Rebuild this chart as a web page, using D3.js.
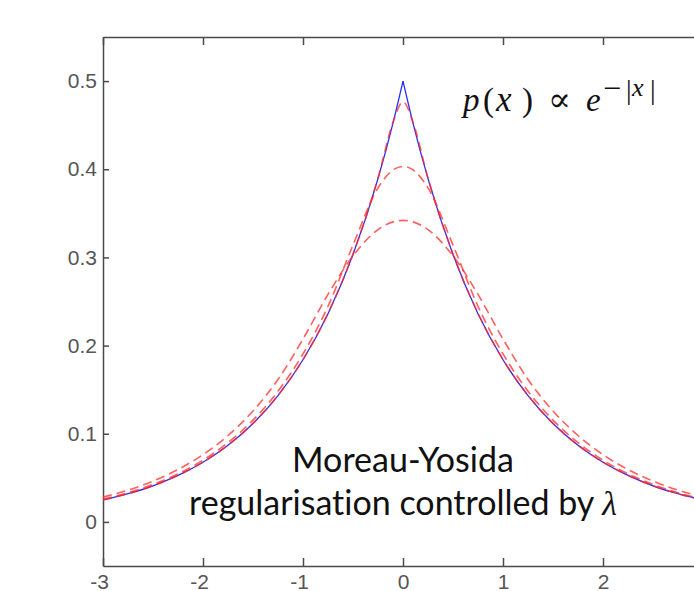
<!DOCTYPE html>
<meta charset="utf-8">
<style>
body { margin: 0; background: #fff; }
svg { display: block; }
.tick text { font-family: "Liberation Sans", Arial, sans-serif; fill: #555; }
.note { font-family: Lato, "Open Sans", sans-serif; fill: #111; font-variant-ligatures: none; }
.math { font-family: "Liberation Serif", "DejaVu Serif", serif; fill: #111; }
</style>
<svg width="694" height="591"></svg>
<script src="https://cdn.jsdelivr.net/npm/d3@7/dist/d3.min.js"></script>
<script>

// sample points along x
var xs = [-3, -2.75, -2.5, -2.25, -2, -1.75, -1.5, -1.25, -1, -0.75, -0.5, -0.25, -0.1,
          0, 0.1, 0.25, 0.5, 0.75, 1, 1.25, 1.5, 1.75, 2, 2.25, 2.5, 2.75, 3];

// blue solid: Laplace density
var laplace = [0.0249, 0.0320, 0.0410, 0.0527, 0.0677, 0.0869, 0.1116, 0.1433, 0.1839, 0.2362, 0.3033, 0.3894, 0.4524,
               0.5000, 0.4524, 0.3894, 0.3033, 0.2362, 0.1839, 0.1433, 0.1116, 0.0869, 0.0677, 0.0527, 0.0410, 0.0320, 0.0249];

// red dashed: smoothed versions (small, medium, large lambda)
var smoothA = [0.0249, 0.0320, 0.0411, 0.0528, 0.0678, 0.0870, 0.1117, 0.1435, 0.1842, 0.2366, 0.3037, 0.3900, 0.4532,
               0.4764, 0.4532, 0.3900, 0.3037, 0.2366, 0.1842, 0.1435, 0.1117, 0.0870, 0.0678, 0.0528, 0.0411, 0.0320, 0.0249];
var smoothB = [0.0258, 0.0331, 0.0425, 0.0546, 0.0700, 0.0900, 0.1155, 0.1483, 0.1905, 0.2446, 0.3140, 0.3788, 0.3992,
               0.4032, 0.3992, 0.3788, 0.3140, 0.2446, 0.1905, 0.1483, 0.1155, 0.0900, 0.0700, 0.0546, 0.0425, 0.0331, 0.0258];
var smoothC = [0.0281, 0.0360, 0.0463, 0.0594, 0.0763, 0.0980, 0.1258, 0.1616, 0.2074, 0.2581, 0.3018, 0.3315, 0.3403,
               0.3420, 0.3403, 0.3315, 0.3018, 0.2581, 0.2074, 0.1616, 0.1258, 0.0980, 0.0763, 0.0594, 0.0463, 0.0360, 0.0281];

var xTicks = [-3, -2, -1, 0, 1, 2, 3];
var xTickLabels = ["-3", "-2", "-1", "0", "1", "2", "3"];
var yTicks = [0, 0.1, 0.2, 0.3, 0.4, 0.5];
var yTickLabels = ["0", "0.1", "0.2", "0.3", "0.4", "0.5"];

var svg = d3.select("svg");

var x = d3.scaleLinear().domain([-3, 3]).range([103, 703]);
var y = d3.scaleLinear().domain([-0.05, 0.55]).range([566, 37]);

// axes box (matlab style, ticks pointing inward)
var axisColor = "#4a4a4a";

var gx = svg.append("g")
    .attr("transform", "translate(0," + y.range()[0] + ")")
    .call(d3.axisBottom(x).tickValues(xTicks).tickSizeInner(-8).tickSizeOuter(0)
        .tickFormat(function(d, i) { return xTickLabels[i]; }));
gx.selectAll("text")
    .attr("font-size", "21px")
    .attr("y", 8)
    .attr("dx", function(d) { return d < 0 ? "-4px" : 0; });

var gxTop = svg.append("g")
    .attr("transform", "translate(0," + y.range()[1] + ")")
    .call(d3.axisTop(x).tickValues(xTicks).tickSizeInner(-8).tickSizeOuter(0).tickFormat(""));

var gy = svg.append("g")
    .attr("transform", "translate(" + x.range()[0] + ",0)")
    .call(d3.axisLeft(y).tickValues(yTicks).tickSizeInner(-6).tickSizeOuter(0)
        .tickFormat(function(d, i) { return yTickLabels[i]; }));
gy.selectAll("text")
    .attr("font-size", "21px")
    .attr("x", -6);

svg.selectAll(".domain, .tick line")
    .attr("stroke", axisColor)
    .attr("stroke-width", 1.5);

// curves
var line = d3.line()
    .x(function(d) { return x(d[0]); })
    .y(function(d) { return y(d[1]); })
    .curve(d3.curveMonotoneX);

function pts(vals) {
    return xs.map(function(v, i) { return [v, vals[i]]; });
}

// blue has a cusp at 0, so draw it as two halves
var bluePts = pts(laplace);
var mid = xs.indexOf(0);
[bluePts.slice(0, mid + 1), bluePts.slice(mid)].forEach(function(half) {
    svg.append("path")
        .attr("d", line(half))
        .attr("fill", "none")
        .attr("stroke", "#2b2bff")
        .attr("stroke-width", 1.3);
});

[smoothA, smoothB, smoothC].forEach(function(s) {
    svg.append("path")
        .attr("d", line(pts(s)))
        .attr("fill", "none")
        .attr("stroke", "#ff2a2a")
        .attr("stroke-opacity", 0.75)
        .attr("stroke-width", 1.6)
        .attr("stroke-dasharray", "9,5");
});

// formula p(x) ∝ e^{-|x|}
var f = svg.append("text").attr("class", "math");
var glyphs = [
    ["p", 463, 111, "italic", 33],
    ["(", 483, 111, "normal", 33],
    ["x", 496, 111, "italic", 35],
    [")", 522, 111, "normal", 33],
    ["\u221D", 548, 111, "normal", 34],
    ["e", 586, 111, "italic", 33],
    ["\u2212", 603, 99, "normal", 32],
    ["|", 626, 99, "normal", 28],
    ["x", 632, 96, "italic", 26],
    ["|", 650, 99, "normal", 28]
];
glyphs.forEach(function(g) {
    f.append("tspan")
        .attr("x", g[1]).attr("y", g[2])
        .attr("font-style", g[3])
        .attr("font-size", g[4] + "px")
        .text(g[0]);
});

// annotation
svg.append("text")
    .attr("class", "note")
    .attr("x", 403).attr("y", 472)
    .attr("text-anchor", "middle")
    .attr("font-size", "34px")
    .text("Moreau-Yosida");

var l2 = svg.append("text")
    .attr("class", "note")
    .attr("x", 403).attr("y", 515)
    .attr("text-anchor", "middle")
    .attr("font-size", "34px");
l2.append("tspan").text("regularisation controlled by ");
l2.append("tspan")
    .attr("font-family", "'Liberation Serif', 'DejaVu Serif', serif")
    .attr("font-style", "italic")
    .text("\u03BB");

</script>
